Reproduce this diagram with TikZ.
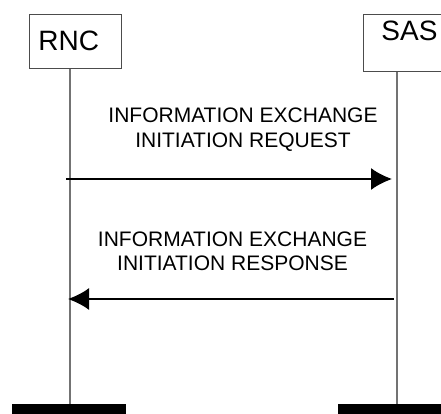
\documentclass[tikz,border=0pt]{standalone}
\usepackage{fontspec}
\setmainfont{Liberation Sans}
\usepackage{tikz}
\usetikzlibrary{positioning}
\usetikzlibrary{arrows.meta}
\tikzset{>=stealth}
\tikzstyle{actor} = [draw=black!70, line width=0.8pt, inner ysep=0pt, align=left, font=\fontsize{28}{32}\selectfont]
\tikzstyle{lifeline} = [draw=black!55, line width=1.1pt]
\tikzstyle{bar} = [fill=black, inner sep=0pt, minimum width=114pt, minimum height=12pt]
\tikzstyle{msg} = [draw, line width=2pt, -{Latex[length=21pt, width=22pt]}]
\tikzstyle{msgtext} = [inner sep=0pt, align=center, font=\fontsize{21}{24.5}\selectfont]

\begin{document}
\begin{tikzpicture}[x=1pt, y=-1pt]
    \useasboundingbox (0,0) rectangle (441,414);
    \node [actor, anchor=north west, inner xsep=9pt, text width=74pt, text height=36pt, text depth=18pt] (RNC) at (29,14) {RNC};
    \node [actor, anchor=north west, inner xsep=18pt, text width=56pt, text height=26pt, text depth=31pt] (SAS) at (363,14) {SAS};
    %% Lifelines
    \coordinate (RNCfoot) at (70,404);
    \coordinate (SASfoot) at (397,404);
    \node [bar, anchor=north] (RNCbar) at ([xshift=-1pt]RNCfoot) {};
    \node [bar, anchor=north] (SASbar) at ([xshift=-2pt]SASfoot) {};
    \path [lifeline] (RNC.south -| RNCfoot) -- (RNCfoot);
    \path [lifeline] (SAS.south -| SASfoot) -- (SASfoot);
    %% Messages
    \coordinate (ReqStart) at (66,179);
    \coordinate (ReqEnd) at (392,179);
    \coordinate (RspStart) at (394,299);
    \coordinate (RspEnd) at (68,299);
    \path [msg] (ReqStart) to node [msgtext, midway, above=27pt, xshift=14pt] (ReqText) {INFORMATION EXCHANGE\\INITIATION REQUEST} (ReqEnd);
    \path [msg] (RspStart) to node [msgtext, midway, above=27pt, xshift=1.5pt] (RspText) {INFORMATION EXCHANGE\\INITIATION RESPONSE} (RspEnd);
  \end{tikzpicture}
\end{document}
